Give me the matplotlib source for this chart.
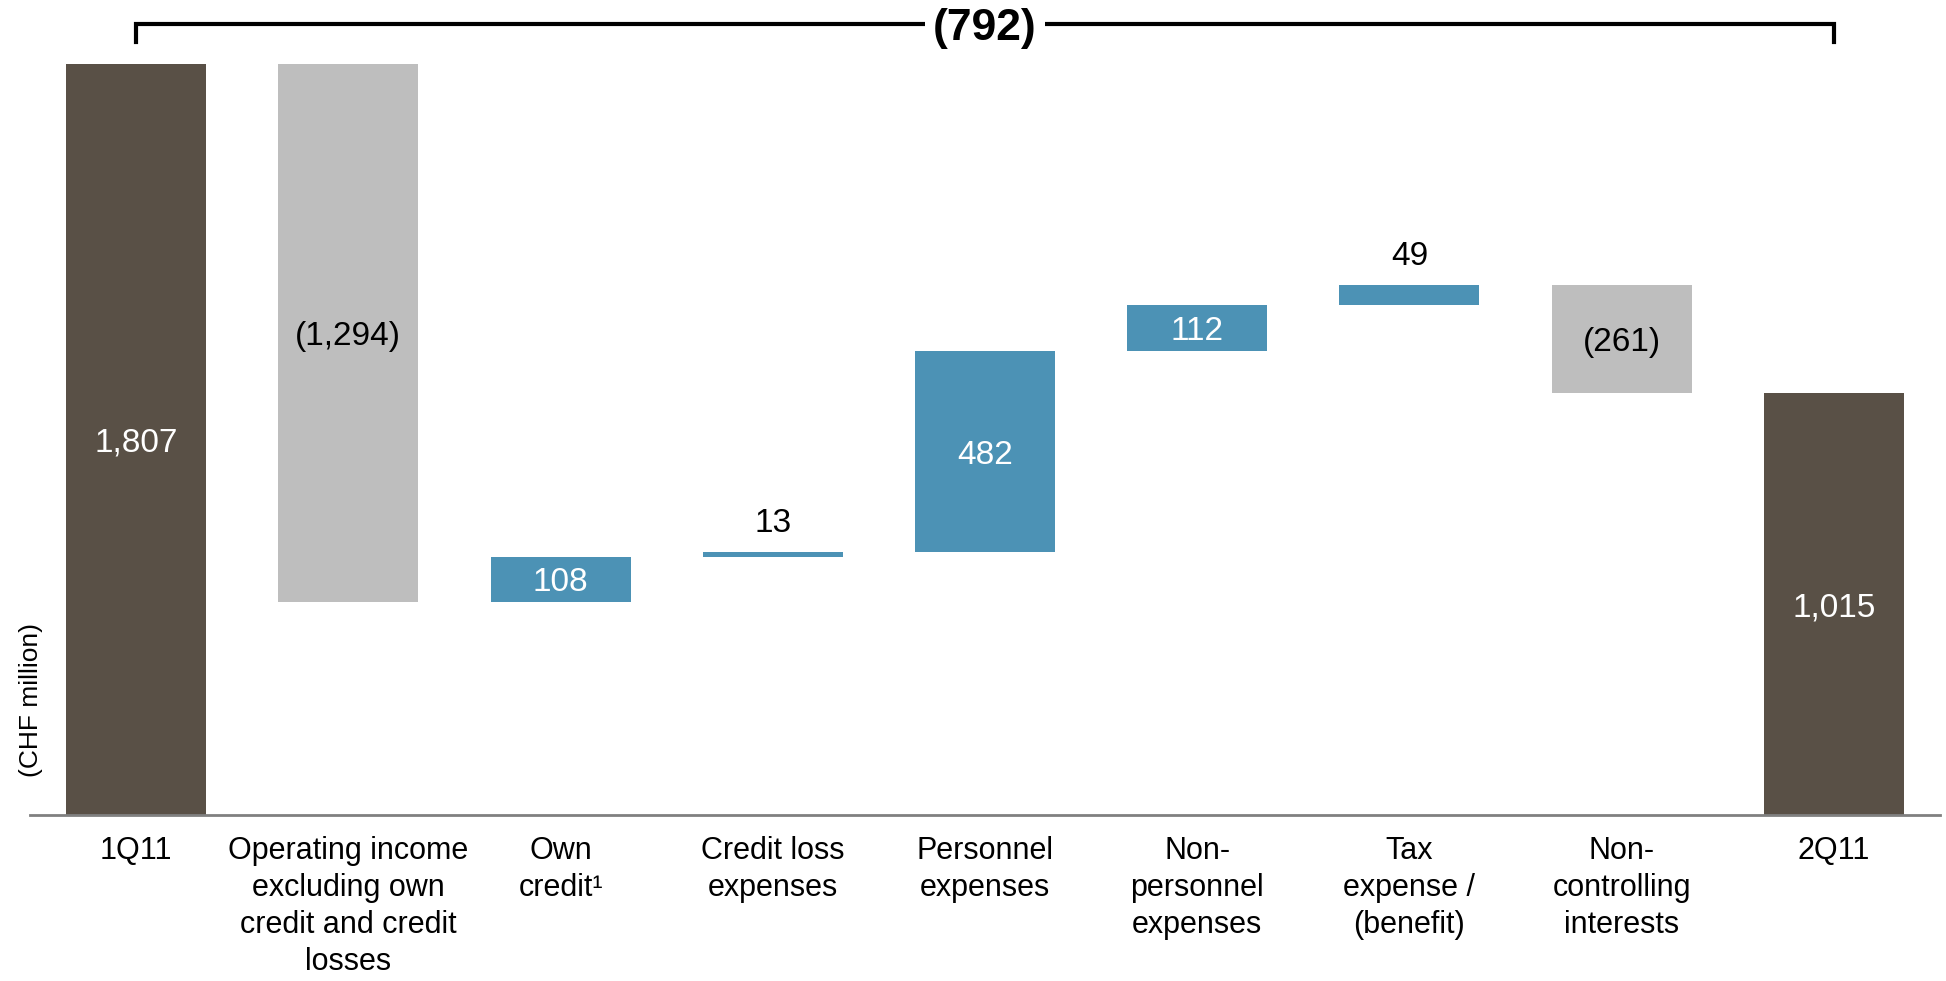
import numpy as np
import matplotlib
matplotlib.use("Agg")
import matplotlib.pyplot as plt

plt.rcParams['font.family'] = ['Liberation Sans', 'DejaVu Sans']

# data (CHF million)
categories = ['1Q11', 'Operating income\nexcluding own\ncredit and credit\nlosses', 'Own\ncredit\u00b9',
              'Credit loss\nexpenses', 'Personnel\nexpenses', 'Non-\npersonnel\nexpenses',
              'Tax\nexpense /\n(benefit)', 'Non-\ncontrolling\ninterests', '2Q11']
start_value = 1807
changes = [-1294, 108, 13, 482, 112, 49, -261]
end_value = 1015
value_labels = ['1,807', '(1,294)', '108', '13', '482', '112', '49', '(261)', '1,015']

dark = '#595046'
grey = '#bebebe'
blue = '#4c92b5'

# waterfall geometry from the data
cum = start_value + np.cumsum(changes)
prev = np.concatenate(([start_value], cum[:-1]))
bottoms = [0] + list(np.minimum(prev, cum)) + [0]
heights = [start_value] + [abs(c) for c in changes] + [end_value]
colors = [dark] + [blue if c > 0 else grey for c in changes] + [dark]
x = np.arange(len(categories))

fig = plt.figure(figsize=(19.46, 9.81), dpi=100)
ax = fig.add_axes([30 / 1946, 166 / 981, 1910 / 1946, 815 / 981])
ax.bar(x, heights, bottom=bottoms, width=0.66, color=colors, zorder=2)

ax.set_xlim(-0.5, 8.5)
ax.set_ylim(0, 1962)
for s in ['top', 'right', 'left']:
    ax.spines[s].set_visible(False)
ax.spines['bottom'].set_color('#808080')
ax.spines['bottom'].set_linewidth(2)
ax.set_yticks([])
ax.set_xticks(x)
ax.set_xticklabels(categories, fontsize=22, linespacing=1.3)
ax.tick_params(axis='x', length=0, pad=15)

# value labels
for i in range(len(x)):
    h = heights[i]
    b = bottoms[i]
    if h < 100:
        ax.text(x[i], b + h + 75, value_labels[i], ha='center', va='center_baseline', fontsize=24, color='black')
    else:
        tc = 'black' if colors[i] == grey else 'white'
        ax.text(x[i], b + h / 2, value_labels[i], ha='center', va='center_baseline', fontsize=24, color=tc)

# bracket showing total change
total = end_value - start_value
ytop = start_value * 1.054
ylow = start_value * 1.030
ax.plot([x[0], x[0], x[-1], x[-1]], [ylow, ytop, ytop, ylow], color='black', lw=3,
        solid_joinstyle='miter', clip_on=False, zorder=3)
ax.text((x[0] + x[-1]) / 2, ytop, '({:,})'.format(abs(total)), ha='center', va='center_baseline',
        fontsize=32, fontweight='bold', zorder=4,
        bbox=dict(facecolor='white', edgecolor='none', pad=6))

fig.text(31 / 1946, 1 - 700 / 981, '(CHF million)', rotation=90, ha='center', va='center', fontsize=19)

fig.savefig('out.png', dpi=100)
